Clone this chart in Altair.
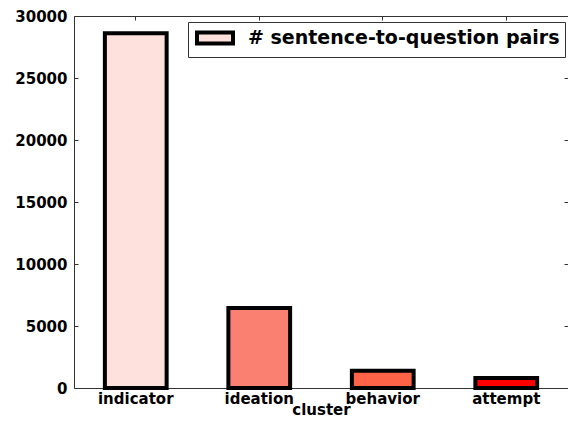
import altair as alt
import pandas as pd

clusters = ["indicator", "ideation", "behavior", "attempt"]
pairs = [28600, 6450, 1400, 800]
bar_colors = ["#fee0dc", "#fa8072", "#ff6347", "#ff0000"]
series_name = "# sentence-to-question pairs"
y_ticks = [0, 5000, 10000, 15000, 20000, 25000, 30000]

df = pd.DataFrame({"cluster": clusters, "pairs": pairs, "series": [series_name] * len(clusters)})

FONT = "DejaVu Sans"

base = alt.Chart(df)

bars = base.mark_bar(strokeWidth=4).encode(
    x=alt.X(
        "cluster:N",
        sort=clusters,
        scale=alt.Scale(paddingInner=0.5, paddingOuter=0.25),
        axis=alt.Axis(title="cluster", labelAngle=0, labelPadding=3, tickSize=4, offset=-4,
                      domain=False, grid=False, titleBaseline="alphabetic", titleY=30),
    ),
    y=alt.Y(
        "pairs:Q",
        scale=alt.Scale(domain=[0, 30000], nice=False),
        axis=alt.Axis(values=y_ticks, format="d", title=None, labelPadding=7, tickSize=4,
                      offset=-4, domain=False, grid=False),
    ),
    fill=alt.Fill("cluster:N", scale=alt.Scale(domain=clusters, range=bar_colors), legend=None),
    stroke=alt.Stroke(
        "series:N",
        scale=alt.Scale(domain=[series_name], range=["black"]),
        legend=alt.Legend(
            title=None, orient="none", legendX=114, legendY=6,
            symbolType="M-2,-0.6H2V0.6H-2Z",
            symbolSize=324, symbolOffset=11, symbolFillColor="#fee0dc",
            symbolStrokeWidth=4, symbolOpacity=1,
            labelFont=FONT, labelFontWeight="bold", labelFontSize=19, labelColor="black",
            labelOffset=22, labelLimit=500,
            strokeColor="#333", fillColor="white", padding=5, cornerRadius=0,
        ),
    ),
)

frame_ticks = base.mark_point(opacity=0).encode(
    x=alt.X("cluster:N", sort=clusters,
            axis=alt.Axis(orient="top", title=None, labels=False, tickSize=4, offset=-4,
                          domain=False, grid=False)),
    y=alt.Y("pairs:Q",
            axis=alt.Axis(orient="right", values=y_ticks, title=None, labels=False, tickSize=4,
                          offset=-4, domain=False, grid=False)),
)

chart = alt.layer(bars, frame_ticks).resolve_axis(
    x="independent", y="independent"
).properties(
    width=494, height=372,
    autosize=alt.AutoSizeParams(type="none"),
    padding={"left": 66, "top": 8, "right": 0, "bottom": 29},
).configure_view(
    stroke="#333", strokeWidth=1
).configure_axis(
    labelFont=FONT, labelFontWeight="bold", labelFontSize=15, labelColor="black",
    titleFont=FONT, titleFontWeight="bold", titleFontSize=15, titleColor="black",
    tickColor="#333", tickWidth=1,
)

chart.save("out.html", embed_options={"renderer": "svg", "actions": False})
